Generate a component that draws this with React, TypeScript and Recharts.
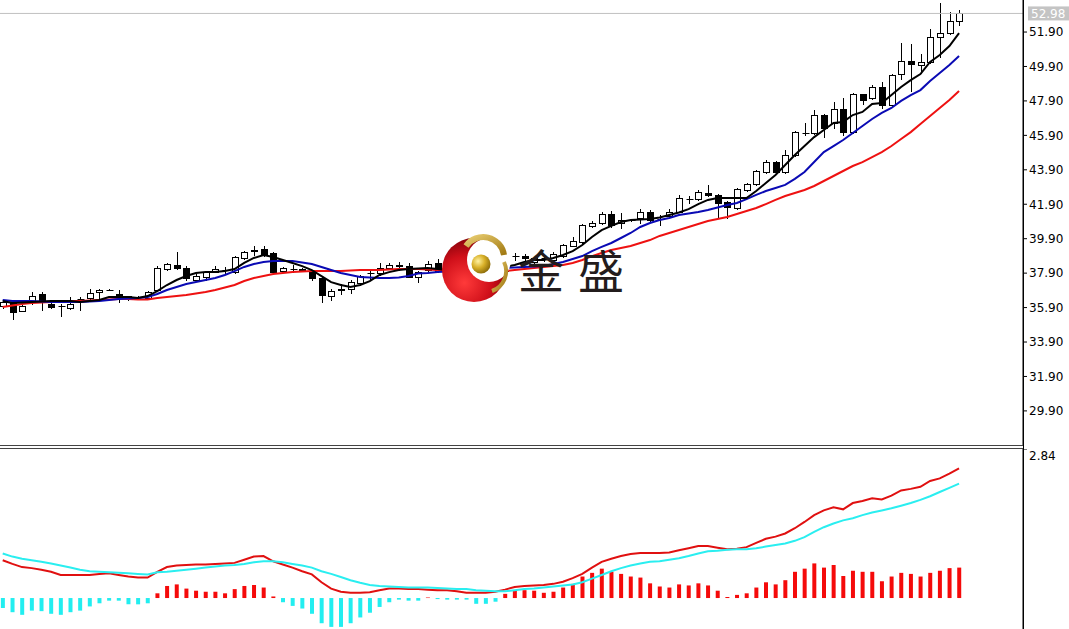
import React from "react";
import { ComposedChart, Bar, Line, XAxis, YAxis, ReferenceLine, Cell } from "recharts";

const opens = [36.01,36.15,35.70,36.24,36.69,36.10,35.99,35.87,36.38,36.45, 36.80,36.92,36.69,36.57,36.50,36.47,36.92,38.14,38.37,38.21, 37.50,37.69,37.96,38.08,37.98,38.78,39.20,39.30,39.05,38.05, 38.15,38.10,38.00,37.60,36.55,36.90,37.00,37.30,37.88,37.90, 38.20,38.33,38.30,37.70,38.10,38.50,38.00,38.20,38.10,37.96, 37.40,37.90,38.05,38.88,38.90,38.55,38.75,38.66,38.90,39.50, 39.72,40.63,40.80,41.33,40.80,40.98,41.08,41.43,41.02,41.22, 41.47,42.20,42.20,42.56,42.44,42.05,41.66,42.73,43.06,43.79, 44.33,43.79,44.76,46.05,46.05,47.08,46.60,47.41,46.11,48.28, 48.05,48.72,47.66,49.46,50.24,50.00,50.18,51.63,51.86,52.56];
const closes = [36.24,35.66,35.99,36.59,36.34,35.93,36.00,36.10,36.40,36.74, 36.92,36.93,36.51,36.40,36.52,36.82,38.20,38.43,38.18,37.60, 37.75,37.96,38.14,38.10,38.85,39.12,39.22,38.95,37.96,38.20, 38.13,38.12,37.60,36.62,36.85,36.95,37.40,37.75,37.90,38.18, 38.35,38.35,37.70,37.95,38.45,38.00,38.20,38.10,38.25,37.67, 37.70,38.10,38.95,38.90,38.78,38.75,38.78,39.00,39.53,39.75, 40.70,40.83,41.33,40.70,40.98,41.00,41.47,40.98,41.03,41.47, 42.26,42.22,42.62,42.43,41.95,41.76,42.77,43.08,43.83,44.33, 43.79,44.76,46.08,46.06,47.08,46.31,47.41,46.11,48.30,47.95, 48.72,47.66,49.40,50.24,50.03,50.18,51.60,51.86,52.56,52.98];
const highs = [36.34,36.25,36.05,36.82,36.78,36.20,36.10,36.50,36.50,37.00, 37.00,36.95,36.92,36.60,36.60,36.88,38.33,38.48,39.10,38.30, 37.85,38.00,38.30,38.25,38.90,39.20,39.50,39.45,39.10,38.25, 38.35,38.20,38.05,37.70,37.00,37.25,37.50,37.80,38.05,38.50, 38.50,38.55,38.50,38.00,38.60,38.70,38.35,38.30,38.40,38.05, 37.75,38.20,39.00,39.05,39.00,38.85,38.90,39.10,39.60,40.00, 40.75,40.90,41.45,41.50,41.40,41.05,41.60,41.55,41.30,41.65, 42.44,42.35,42.75,43.00,42.50,42.10,42.85,43.15,43.90,44.45, 44.40,45.05,46.15,46.60,47.35,47.15,47.85,48.05,48.35,48.33, 48.80,49.00,49.45,51.25,51.20,50.60,52.10,53.57,53.08,53.20];
const lows = [35.89,35.24,35.70,36.10,35.76,35.85,35.41,35.82,35.76,36.40, 36.45,36.90,36.22,36.35,36.40,36.45,36.90,38.10,38.15,37.50, 37.45,37.50,37.94,37.85,37.90,38.70,38.95,38.90,37.90,38.00, 37.95,38.00,37.50,36.25,36.35,36.70,36.75,37.20,37.55,37.80, 38.15,38.10,37.65,37.40,38.05,37.95,37.90,37.95,38.00,37.55, 37.20,37.80,38.00,38.65,38.50,38.45,38.60,38.60,38.85,39.45, 39.65,40.55,40.75,40.55,40.50,40.95,40.80,40.95,40.70,41.15, 41.45,41.98,42.15,42.35,41.18,41.08,41.60,42.65,43.00,43.70, 43.70,43.70,44.70,45.90,46.00,45.80,46.35,45.92,46.05,47.75, 48.00,47.50,47.60,49.20,48.50,49.50,50.10,50.47,51.80,52.30];

const ma5 = [36.28,36.17,36.19,36.22,36.25,36.28,36.28,36.28,36.22,36.28, 36.34,36.51,36.51,36.51,36.45,36.57,36.86,37.21,37.50,37.73, 37.91,37.96,37.96,38.02,38.14,38.49,38.78,38.95,38.84,38.66, 38.49,38.31,38.08,37.73,37.38,37.21,37.09,37.21,37.44,37.79, 37.96,38.08,38.14,38.17,38.20,38.14,38.08,38.08,38.08,38.08, 38.08,38.14,38.26,38.37,38.55,38.66,38.66,38.78,38.95,39.18, 39.53,40.00,40.40,40.64,40.87,40.98,41.01,41.04,41.13,41.28, 41.42,41.62,41.91,42.15,42.26,42.26,42.26,42.26,42.67,43.13, 43.60,44.18,44.76,45.28,45.80,46.21,46.62,46.68,47.08,47.26, 47.72,47.78,48.24,48.71,49.11,49.46,50.16,50.57,51.09,51.84];
const ma10 = [36.34,36.28,36.28,36.28,36.25,36.22,36.22,36.22,36.22,36.25, 36.28,36.34,36.40,36.43,36.45,36.51,36.69,36.92,37.09,37.27, 37.38,37.50,37.62,37.79,38.02,38.26,38.43,38.55,38.60,38.60, 38.60,38.52,38.43,38.26,38.08,37.91,37.79,37.67,37.65,37.62, 37.62,37.65,37.73,37.88,37.91,37.96,37.99,38.02,38.05,38.08, 38.11,38.14,38.20,38.23,38.26,38.29,38.31,38.43,38.55,38.72, 38.89,39.18,39.42,39.65,39.94,40.23,40.58,40.81,40.98,41.10, 41.28,41.36,41.45,41.57,41.71,41.86,41.97,42.20,42.44,42.67, 42.84,43.02,43.37,43.77,44.35,44.93,45.28,45.63,46.04,46.44, 46.85,47.20,47.49,47.90,48.24,48.53,49.06,49.52,49.99,50.51];
const ma20 = [35.93,36.02,36.11,36.17,36.19,36.22,36.25,36.28,36.28,36.31, 36.34,36.37,36.40,36.40,36.37,36.37,36.45,36.51,36.57,36.63, 36.72,36.80,36.92,37.07,37.21,37.44,37.62,37.73,37.85,37.91, 37.96,37.99,38.02,38.02,38.02,38.02,38.05,38.08,38.08,38.08, 38.11,38.14,38.14,38.14,38.11,38.08,38.02,37.96,37.94,37.91, 37.91,37.96,38.02,38.08,38.14,38.20,38.26,38.31,38.37,38.49, 38.66,38.89,39.07,39.24,39.36,39.48,39.65,39.82,40.06,40.23, 40.40,40.58,40.75,40.93,41.04,41.16,41.33,41.51,41.68,41.91, 42.15,42.38,42.55,42.73,42.96,43.25,43.54,43.83,44.12,44.35, 44.64,44.93,45.28,45.69,46.09,46.56,47.02,47.49,47.95,48.48];

const dif = [0.72,0.65,0.59,0.57,0.54,0.50,0.44,0.44,0.44,0.44, 0.46,0.47,0.44,0.41,0.39,0.39,0.50,0.59,0.62,0.63, 0.64,0.64,0.65,0.66,0.67,0.73,0.79,0.80,0.70,0.64, 0.58,0.51,0.45,0.30,0.18,0.12,0.10,0.10,0.11,0.15, 0.18,0.18,0.17,0.17,0.16,0.15,0.15,0.13,0.10,0.10, 0.10,0.12,0.16,0.21,0.23,0.24,0.25,0.27,0.31,0.38, 0.46,0.58,0.69,0.75,0.80,0.84,0.86,0.86,0.86,0.87, 0.91,0.95,0.99,0.99,0.96,0.93,0.94,0.97,1.05,1.13, 1.17,1.23,1.33,1.45,1.58,1.67,1.73,1.69,1.81,1.85, 1.90,1.88,1.95,2.05,2.08,2.12,2.23,2.28,2.37,2.47];
const dea = [0.85,0.79,0.75,0.72,0.69,0.66,0.62,0.58,0.54,0.51, 0.50,0.49,0.48,0.47,0.46,0.45,0.49,0.50,0.52,0.54, 0.56,0.58,0.60,0.62,0.63,0.65,0.68,0.70,0.70,0.68, 0.65,0.62,0.58,0.51,0.46,0.40,0.34,0.29,0.25,0.23, 0.22,0.21,0.20,0.20,0.20,0.19,0.18,0.17,0.17,0.15, 0.14,0.13,0.13,0.15,0.17,0.18,0.20,0.22,0.24,0.26, 0.30,0.37,0.44,0.51,0.57,0.62,0.66,0.69,0.70,0.73, 0.76,0.80,0.85,0.89,0.90,0.92,0.93,0.93,0.95,0.98, 1.01,1.04,1.09,1.16,1.26,1.35,1.42,1.48,1.52,1.58, 1.63,1.67,1.71,1.76,1.81,1.87,1.94,2.02,2.10,2.18];
const hist = [-0.19,-0.27,-0.32,-0.24,-0.25,-0.30,-0.32,-0.27,-0.24,-0.16, -0.10,-0.05,-0.05,-0.12,-0.12,-0.10,0.09,0.23,0.26,0.18, 0.14,0.12,0.12,0.09,0.17,0.23,0.25,0.20,0.03,-0.08, -0.15,-0.20,-0.30,-0.48,-0.55,-0.55,-0.48,-0.37,-0.28,-0.17, -0.08,-0.03,-0.05,-0.05,0.01,-0.02,-0.03,-0.03,-0.03,-0.11, -0.11,-0.07,0.08,0.15,0.15,0.14,0.10,0.12,0.20,0.27, 0.41,0.48,0.56,0.50,0.46,0.41,0.39,0.28,0.22,0.20, 0.26,0.24,0.28,0.24,0.14,0.02,0.06,0.09,0.20,0.30, 0.26,0.34,0.50,0.56,0.66,0.58,0.63,0.42,0.52,0.50, 0.50,0.32,0.41,0.48,0.46,0.41,0.48,0.52,0.57,0.58];

const priceTicks = [29.9, 31.9, 33.9, 35.9, 37.9, 39.9, 41.9, 43.9, 45.9, 47.9, 49.9, 51.9];
const macdTicks = [2.84];
const lastPrice = 52.98;
const brandText = "金盛";

const priceData = opens.map((o, i) => ({
  i, o, h: highs[i], l: lows[i], c: closes[i],
  range: [lows[i], highs[i]],
  ma5: ma5[i], ma10: ma10[i], ma20: ma20[i],
}));
const macdData = dif.map((d, i) => ({ i, dif: d, dea: dea[i], hist: hist[i] }));

const X_DOMAIN: [number, number] = [-0.28, 105.62];
const FONT = "DejaVu Sans, Verdana, sans-serif";

const Candle = (props: any) => {
  const { x, y, width, height, payload } = props;
  if (!payload || x == null) return null;
  const { o, h, l, c } = payload;
  const top = Math.min(y, y + height);
  const bot = Math.max(y, y + height);
  const span = h - l;
  const py = (v: number) => (span === 0 ? top : top + ((h - v) / span) * (bot - top));
  const cx = Math.round(x + width / 2) + 0.5;
  const yo = py(o);
  const yc = py(c);
  const bt = Math.round(Math.min(yo, yc)) + 0.5;
  const bb = Math.round(Math.max(yo, yc)) + 0.5;
  const up = c >= o;
  return (
    <g>
      <line x1={cx} x2={cx} y1={Math.round(top)} y2={Math.round(bot) + 1} stroke="#000" strokeWidth={1} />
      {bb - bt < 1 ? (
        <line x1={cx - 3} x2={cx + 4} y1={bt} y2={bt} stroke="#000" strokeWidth={1} />
      ) : (
        <rect x={cx - 3} y={bt} width={6} height={bb - bt} fill={up ? "#fff" : "#000"} stroke="#000" strokeWidth={1} />
      )}
    </g>
  );
};

const PriceTag = (props: any) => {
  const vb = props.viewBox || {};
  const right = (vb.x || 0) + (vb.width || 0);
  const y = vb.y || 0;
  return (
    <g>
      <rect x={right + 5} y={y - 7} width={46} height={14} fill="#c4c4c4" />
      <text x={right + 8} y={y + 4.5} fill="#ffffff" fontSize={12} fontFamily={FONT}>
        {lastPrice.toFixed(2)}
      </text>
    </g>
  );
};

const MacdTick = (props: any) => {
  const { x, y, payload } = props;
  return (
    <text x={x + 1} y={y + 11} fill="#000" fontSize={12} fontFamily={FONT} textAnchor="start">
      {Number(payload.value).toFixed(2)}
    </text>
  );
};

export default function App() {
  return (
    <div style={{ position: "absolute", left: 0, top: 0, width: 1069, height: 629, background: "#fff", overflow: "hidden" }}>
      <div style={{ position: "absolute", left: 0, top: 0 }}>
        <ComposedChart width={1069} height={445} data={priceData} margin={{ top: 0, right: 0, bottom: 0, left: 0 }}>
          <XAxis dataKey="i" type="number" domain={X_DOMAIN} allowDataOverflow hide />
          <YAxis
            orientation="right"
            domain={[27.92, 53.76]}
            allowDataOverflow
            ticks={priceTicks}
            interval={0}
            width={46}
            tickSize={4}
            tickMargin={2}
            axisLine={{ stroke: "#000" }}
            tickLine={{ stroke: "#000" }}
            tick={{ fill: "#000", fontSize: 12, fontFamily: FONT }}
            tickFormatter={(v: number) => v.toFixed(2)}
          />
          <ReferenceLine y={lastPrice} stroke="#c0c0c0" strokeWidth={1} label={<PriceTag />} />
          <Bar dataKey="range" barSize={6} isAnimationActive={false} shape={(p: any) => <Candle {...p} />} />
          <Line dataKey="ma20" stroke="#ee1111" strokeWidth={2} dot={false} activeDot={false} isAnimationActive={false} type="linear" />
          <Line dataKey="ma10" stroke="#0a0ab4" strokeWidth={2} dot={false} activeDot={false} isAnimationActive={false} type="linear" />
          <Line dataKey="ma5" stroke="#000000" strokeWidth={2} dot={false} activeDot={false} isAnimationActive={false} type="linear" />
        </ComposedChart>
      </div>
      <div style={{ position: "absolute", left: 0, top: 449 }}>
        <ComposedChart width={1069} height={180} data={macdData} margin={{ top: 0, right: 0, bottom: 0, left: 0 }}>
          <XAxis dataKey="i" type="number" domain={X_DOMAIN} allowDataOverflow hide />
          <YAxis
            orientation="right"
            domain={[-0.59, 2.84]}
            allowDataOverflow
            ticks={macdTicks}
            interval={0}
            width={46}
            tickSize={4}
            tickMargin={1}
            axisLine={{ stroke: "#000" }}
            tickLine={{ stroke: "#000" }}
            tick={(p: any) => <MacdTick {...p} />}
          />
          <Bar dataKey="hist" barSize={4} isAnimationActive={false}>
            {hist.map((v, k) => (
              <Cell key={k} fill={v >= 0 ? "#f50a0a" : "#22eef0"} />
            ))}
          </Bar>
          <Line dataKey="dif" stroke="#e01010" strokeWidth={2} dot={false} activeDot={false} isAnimationActive={false} type="linear" />
          <Line dataKey="dea" stroke="#2aeef0" strokeWidth={2} dot={false} activeDot={false} isAnimationActive={false} type="linear" />
        </ComposedChart>
      </div>
      <svg width={1069} height={629} style={{ position: "absolute", left: 0, top: 0, pointerEvents: "none" }}>
        <defs>
          <radialGradient id="redG" cx="0.35" cy="0.7" r="0.75">
            <stop offset="0" stopColor="#ff3a3a" />
            <stop offset="0.55" stopColor="#d0101a" />
            <stop offset="1" stopColor="#7a0008" />
          </radialGradient>
          <radialGradient id="goldG" cx="0.35" cy="0.35" r="0.7">
            <stop offset="0" stopColor="#fff2a0" />
            <stop offset="0.5" stopColor="#d8b028" />
            <stop offset="1" stopColor="#8a6a08" />
          </radialGradient>
          <linearGradient id="goldArc" x1="0" y1="0" x2="1" y2="1">
            <stop offset="0" stopColor="#e8cc70" />
            <stop offset="1" stopColor="#a07810" />
          </linearGradient>
        </defs>
        <line x1={0} x2={1023} y1={445.5} y2={445.5} stroke="#444" strokeWidth={1} />
        <line x1={0} x2={1023} y1={448.5} y2={448.5} stroke="#444" strokeWidth={1} />
        <line x1={1023.5} x2={1023.5} y1={0} y2={629} stroke="#000" strokeWidth={1} />
        <g>
          <circle cx={474} cy={270} r={32} fill="url(#redG)" />
          <circle cx={489} cy={260} r={22} fill="#ffffff" />
          <path d="M 466 246 A 21 21 0 0 1 504 255" stroke="url(#goldArc)" strokeWidth={6} fill="none" />
          <path d="M 504 262 A 21 21 0 0 1 492 291" stroke="url(#goldArc)" strokeWidth={4} fill="none" />
          <circle cx={481} cy={264} r={9.5} fill="url(#goldG)" />
          <text x={518} y={288} fontSize={46} fill="#231c1c" fontFamily="Noto Sans CJK SC, sans-serif" letterSpacing={14}>
            {brandText}
          </text>
        </g>
      </svg>
    </div>
  );
}
